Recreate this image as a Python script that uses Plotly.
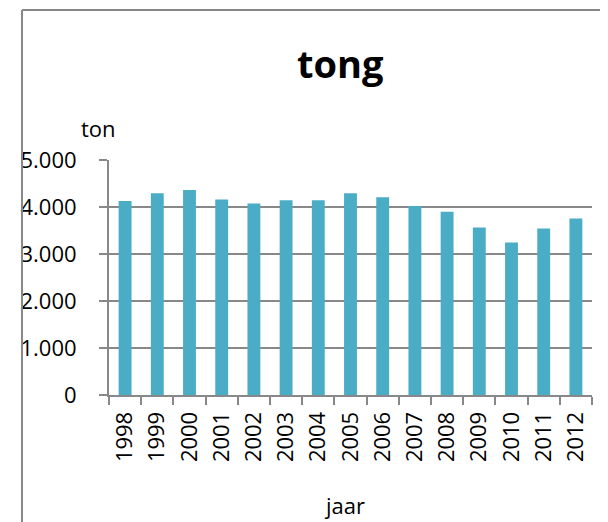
import plotly.graph_objects as go

years = ["1998", "1999", "2000", "2001", "2002", "2003", "2004", "2005",
         "2006", "2007", "2008", "2009", "2010", "2011", "2012"]
tonnes = [4130, 4295, 4360, 4160, 4075, 4145, 4145, 4295,
          4205, 4020, 3900, 3565, 3245, 3545, 3755]
y_ticks = [0, 1000, 2000, 3000, 4000, 5000]
y_tick_labels = ["0", "1.000", "2.000", "3.000", "4.000", "5.000"]

OFF = 8  # default page body margin
W, H = 608 - OFF, 522 - OFF
# plot area in screen pixels: x 98..592, y 160..395
L, R, T, B = 98 - OFF, 608 - 592, 160 - OFF, 522 - 395
pw, ph = W - L - R, H - T - B

def px(x):
    return (x - OFF - L) / pw

def py(y):
    return (H - B - (y - OFF)) / ph

font = "Open Sans, Liberation Sans, Arial, sans-serif"
grid = "#888888"

fig = go.Figure(go.Bar(x=years, y=tonnes, marker=dict(color="#4BACC6", line=dict(width=0)),
                       width=0.4))

fig.update_layout(
    width=W, height=H,
    margin=dict(l=L, r=R, t=T, b=B),
    paper_bgcolor="white", plot_bgcolor="white",
    showlegend=False,
    font=dict(family=font, color="black", size=22),
    xaxis=dict(type="category", tickangle=-90, showgrid=False,
               showline=True, linecolor=grid, linewidth=2,
               ticks="outside", tickson="boundaries", ticklen=8, tickwidth=1.5,
               tickcolor=grid, ticklabelstandoff=6,
               tickfont=dict(size=22, family=font)),
    yaxis=dict(range=[0, 5000], tickvals=y_ticks, ticktext=y_tick_labels,
               showgrid=True, gridcolor=grid, gridwidth=1.5,
               showline=True, linecolor=grid, linewidth=2,
               ticks="outside", ticklen=8, tickwidth=1.5, tickcolor=grid,
               ticklabelstandoff=18,
               tickfont=dict(size=22, family=font), zeroline=False),
    shapes=[
        dict(type="line", xref="paper", yref="paper",
             x0=px(9), x1=px(9), y0=py(10), y1=py(540),
             line=dict(color="#878787", width=2)),
        dict(type="line", xref="paper", yref="paper",
             x0=px(9), x1=px(640), y0=py(10), y1=py(10),
             line=dict(color="#878787", width=2)),
    ],
    annotations=[
        dict(text="<b>tong</b>", xref="paper", yref="paper", x=px(335), y=py(63),
             showarrow=False, xanchor="center", yanchor="middle",
             font=dict(size=38, family=font)),
        dict(text="ton", xref="paper", yref="paper", x=px(87), y=py(128),
             showarrow=False, xanchor="center", yanchor="middle",
             font=dict(size=22, family=font)),
        dict(text="jaar", xref="paper", yref="paper", x=px(339), y=py(505),
             showarrow=False, xanchor="center", yanchor="middle",
             font=dict(size=22, family=font)),
    ],
)

fig.write_html("out.html")
